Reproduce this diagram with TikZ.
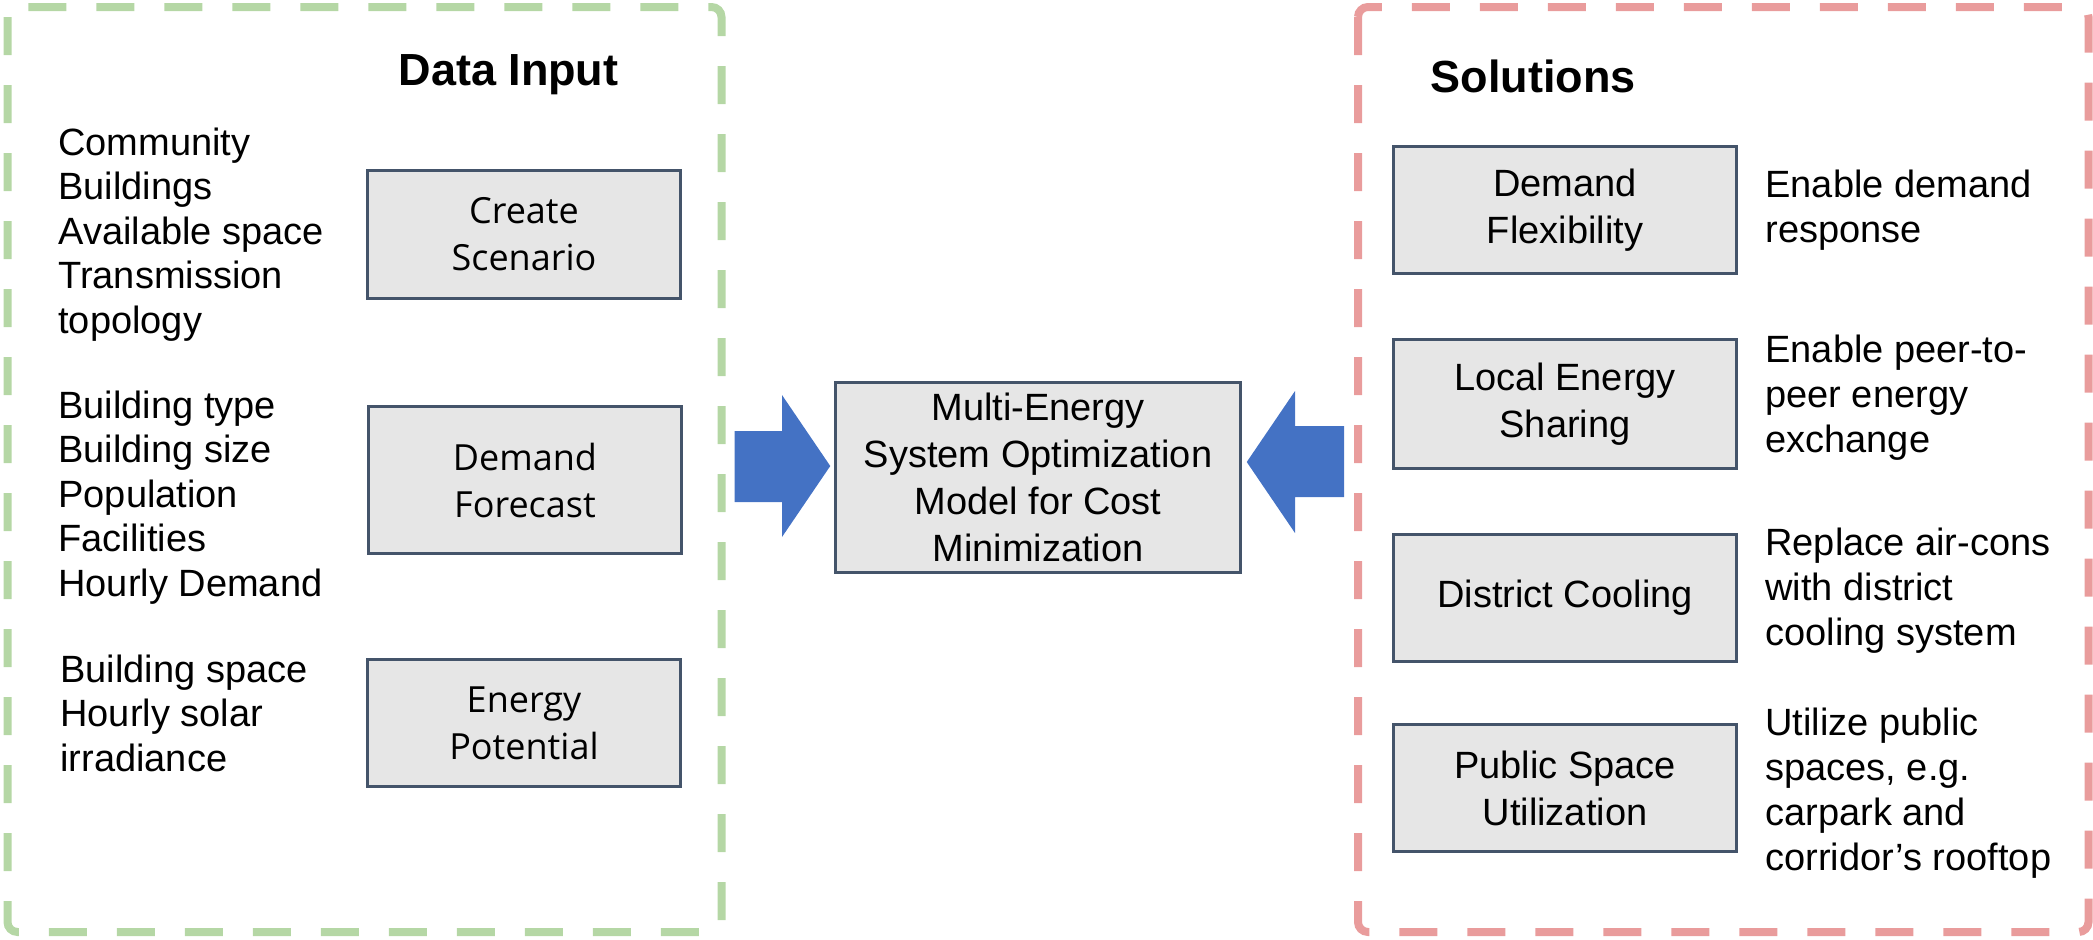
\documentclass[tikz,border=0pt]{standalone}
\usepackage{fontspec}
\setmainfont{Liberation Sans}
\newfontfamily\boxfont{Open Sans}
\usetikzlibrary{calc}
\definecolor{grnline}{HTML}{B5D7A5}
\definecolor{redline}{HTML}{E99C9C}
\definecolor{boxedge}{HTML}{44546A}
\definecolor{boxfill}{HTML}{E6E6E6}
\definecolor{arrowblue}{HTML}{4472C4}
\begin{document}
\begin{tikzpicture}[x=0.5pt,y=-0.5pt,
  panel/.style={line width=4pt, dash pattern=on 19pt off 15pt, rounded corners=5pt},
  procbox/.style={draw=boxedge, fill=boxfill, line width=1.25pt, align=center, inner sep=0pt,
    font=\fontsize{19}{23.5}\selectfont},
  leftbox/.style={procbox, minimum width=156.5pt, font=\boxfont\fontsize{18}{23.5}\selectfont},
  rightbox/.style={procbox, minimum width=171.5pt, minimum height=63.5pt},
  listtext/.style={anchor=base west, inner sep=0pt, font=\fontsize{19}{22.3}\selectfont},
  desctext/.style={anchor=base west, inner sep=0pt, font=\fontsize{19}{22.5}\selectfont},
  heading/.style={anchor=base, inner sep=0pt, font=\bfseries\fontsize{22.5}{27}\selectfont},
  blockarrow/.style={fill=arrowblue}]
\useasboundingbox (0,0) rectangle (2093,939);

% panels
\draw[panel, draw=grnline] (7.5,7) rectangle (721.5,932);
\draw[panel, draw=redline] (1358,7) rectangle (2088.5,932);

% headings
\node[heading] (hin) at (508.5,85) {Data Input};
\node[heading] (hsol) at (1533,92) {Solutions};

% left list texts
\node[listtext] (l1) at (58,155) {\parbox[t]{180pt}{\raggedright Community\\Buildings\\Available space\\Transmission\\topology}};
\node[listtext] (l2) at (58,418) {\parbox[t]{180pt}{\raggedright Building type\\Building size\\Population\\Facilities\\Hourly Demand}};
\node[listtext] (l3) at (60,682) {\parbox[t]{180pt}{\raggedright Building space\\Hourly solar\\irradiance}};

% left boxes
\node[leftbox, minimum height=64pt] (scen) at (524,234.5) {Create\\Scenario};
\node[leftbox, minimum height=73.5pt] (fore) at (525,480) {Demand\\Forecast};
\node[leftbox, minimum height=63.5pt] (pot) at (524,723) {Energy\\Potential};

% center model
\node[procbox, minimum width=202.5pt, minimum height=95pt] (model) at (1038,477.5)
  {Multi-Energy\\System Optimization\\Model for Cost\\Minimization};

% right boxes
\node[rightbox] (flex) at (1565,210) {Demand\\Flexibility};
\node[rightbox, minimum height=64.5pt] (share) at (1565,404) {Local Energy\\Sharing};
\node[rightbox] (cool) at (1565,598) {District Cooling};
\node[rightbox] (pub) at (1565,788) {Public Space\\Utilization};

% right descriptions
\node[desctext] (d1) at (1765,197) {\parbox[t]{180pt}{\raggedright Enable demand\\response}};
\node[desctext] (d2) at (1765,362) {\parbox[t]{180pt}{\raggedright Enable peer-to-\\peer energy\\exchange}};
\node[desctext] (d3) at (1765,555) {\parbox[t]{180pt}{\raggedright Replace air-cons\\with district\\cooling system}};
\node[desctext] (d4) at (1765,735) {\parbox[t]{180pt}{\raggedright Utilize public\\spaces, e.g.\\carpark and\\corridor’s rooftop}};

% block arrows into the model
\fill[blockarrow] (734.5,431) -- (782,431) -- (782,395) -- ([xshift=-2pt]model.west |- 0,466)
  -- (782,537) -- (782,502) -- (734.5,502) -- cycle;
\fill[blockarrow] (1344,426) -- (1295,426) -- (1295,391) -- ([xshift=2.5pt]model.east |- 0,462)
  -- (1295,533) -- (1295,497) -- (1344,497) -- cycle;
\end{tikzpicture}
\end{document}
